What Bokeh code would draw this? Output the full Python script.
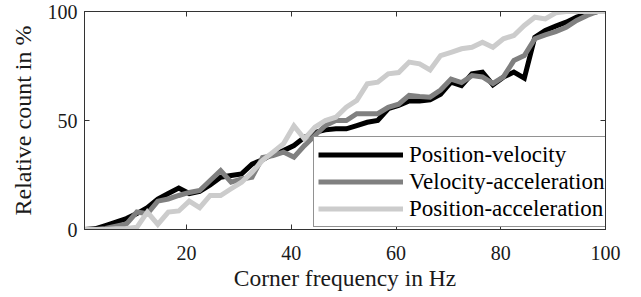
from bokeh.plotting import figure
from bokeh.models import Legend, LegendItem, LinearAxis, FixedTicker, Range1d
from bokeh.embed import file_html
from bokeh.resources import INLINE

# Corner frequency in Hz
freq = [0.5, 2.5, 4.5, 6.5, 8.5, 10.5, 12.5, 14.5, 16.5, 18.5,
        20.5, 22.5, 24.5, 26.5, 28.5, 30.5, 32.5, 34.5, 36.5, 38.5,
        40.5, 42.5, 44.5, 46.5, 48.5, 50.5, 52.5, 54.5, 56.5, 58.5,
        60.5, 62.5, 64.5, 66.5, 68.5, 70.5, 72.5, 74.5, 76.5, 78.5,
        80.5, 82.5, 84.5, 86.5, 88.5, 90.5, 92.5, 94.5, 96.5, 98.5, 100]

# Relative count in %
pos_vel = [0, 0.3, 1.8, 3.4, 5, 7.3, 10, 14, 16.5, 19,
           16.5, 17.5, 20.5, 24, 24.8, 25.5, 30, 32, 34.7, 36.2,
           38.5, 42.3, 44.6, 45.7, 46.2, 46.2, 47.7, 49.2, 50, 55.4,
           56.9, 59, 59, 59.5, 62, 67.6, 66, 71.4, 72.2, 66.4,
           69.9, 72.2, 69.4, 88.2, 91.3, 93.3, 95.1, 97.4, 98.9, 100, 100]

vel_acc = [0, 0, 0.5, 1.5, 2.5, 8, 7.2, 13, 14, 15.6,
           17, 17.9, 22.5, 27, 21.7, 23.2, 24, 33, 33.9, 35.5,
           33.2, 38.5, 43.1, 47.7, 50, 50, 53.1, 53.1, 53.1, 56,
           57.5, 61.5, 61, 60.7, 64, 69, 67.4, 70.6, 70, 67,
           70, 77.5, 79.8, 87.5, 89.3, 90.8, 92.8, 95.9, 98.2, 100, 100]

pos_acc = [0, 0, 0, 0.3, 0.5, 1, 8, 2.3, 8, 8.5,
           13, 10, 15.6, 15.6, 18.7, 21.7, 26.3, 31.7, 35.5, 39.3,
           47.5, 41.6, 46.9, 50, 51.5, 56.1, 59.2, 66.8, 67.6, 71.4,
           72, 76.8, 76, 73.2, 79.8, 81.3, 82.9, 83.6, 85.9, 83.6,
           87.5, 89, 93.6, 97.4, 96.6, 99.4, 100, 100, 100, 100, 100]

series_names = ["Position-velocity", "Velocity-acceleration", "Position-acceleration"]
series_colors = ["#000000", "#808080", "#cccccc"]

x_ticks = [20, 40, 60, 80, 100]
y_ticks = [0, 50, 100]
x_label = "Corner frequency in Hz"
y_label = "Relative count in %"

FONT = "Liberation Serif"
AXC = "#333333"
TXT = "#1a1a1a"

p = figure(width=640, height=297, output_backend="svg", toolbar_location=None,
           x_range=Range1d(0.5, 100), y_range=Range1d(0, 100),
           min_border_left=84, min_border_right=35, min_border_top=11, min_border_bottom=68)
p.grid.visible = False
p.outline_line_color = AXC
p.outline_line_width = 1
p.background_fill_color = "white"

renderers = []
for ys, c in zip([pos_vel, vel_acc, pos_acc], series_colors):
    r = p.line(freq, ys, line_color=c, line_width=5, line_join="miter")
    renderers.append(r)

def style_axis(ax, ticks, labels=True):
    ax.ticker = FixedTicker(ticks=ticks)
    ax.axis_line_color = AXC
    ax.major_tick_line_color = AXC
    ax.minor_tick_line_color = None
    ax.major_tick_in = 5
    ax.major_tick_out = 0
    if labels:
        ax.major_label_text_font = FONT
        ax.major_label_text_font_size = "20px"
        ax.major_label_text_color = TXT
        ax.axis_label_text_font = FONT
        ax.axis_label_text_font_size = "24px"
        ax.axis_label_text_font_style = "normal"
        ax.axis_label_text_color = TXT
    else:
        ax.major_label_text_font_size = "0px"
        ax.major_label_text_color = None
        ax.major_label_standoff = 0

style_axis(p.xaxis[0], x_ticks)
style_axis(p.yaxis[0], y_ticks)
p.xaxis[0].axis_label = x_label
p.xaxis[0].axis_label_text_font_size = "23.5px"
p.xaxis[0].major_label_standoff = 16
p.xaxis[0].axis_label_standoff = 2
p.yaxis[0].axis_label = y_label
p.yaxis[0].major_label_standoff = 7
p.yaxis[0].axis_label_standoff = 9

top = LinearAxis()
style_axis(top, x_ticks, labels=False)
p.add_layout(top, "above")
right = LinearAxis()
style_axis(right, y_ticks, labels=False)
p.add_layout(right, "right")

legend = Legend(items=[LegendItem(label=n, renderers=[r]) for n, r in zip(series_names, renderers)],
                location=(229, 2), padding=4, spacing=0, margin=0,
                glyph_width=85, glyph_height=27, label_height=27, label_standoff=6,
                label_text_font=FONT, label_text_font_size="23px", label_text_color="#000000",
                border_line_color="#262626", border_line_width=1,
                background_fill_color="white", background_fill_alpha=1.0)
p.add_layout(legend)

open("out.html", "w").write(file_html(p, INLINE))
